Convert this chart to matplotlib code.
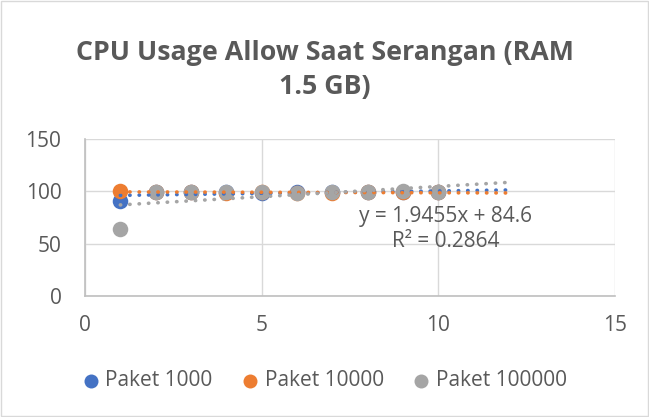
import numpy as np
import matplotlib.pyplot as plt

# data
x = [1, 2, 3, 4, 5, 6, 7, 8, 9, 10]
paket_1000 = [91, 99.5, 99, 99, 98, 99, 99, 99, 99.5, 99.5]
paket_10000 = [100, 99.5, 99.5, 98.5, 99, 98.5, 98.5, 99, 99, 99]
paket_100000 = [64, 99.5, 99.5, 99, 99.5, 98.5, 99.5, 99.5, 100, 99.5]
names = ["Paket 1000", "Paket 10000", "Paket 100000"]
colors = ["#4472C4", "#ED7D31", "#A5A5A5"]
eq_text = "y = 1.9455x + 84.6\nR² = 0.2864"

plt.rcParams['font.family'] = ['Open Sans', 'DejaVu Sans']
fig = plt.figure(figsize=(6.49, 4.17), dpi=100)
ax = fig.add_axes([85/649, 1 - 296/417, 530/649, 157/417])

series = [paket_1000, paket_10000, paket_100000]
xt = np.array([1, 12])
for ys, name, c in zip(series, names, colors):
    ax.scatter(x, ys, s=125, color=c, zorder=3, label=name, linewidths=0)
for ys, c in zip(series, colors):
    k, b = np.polyfit(x, ys, 1)
    ax.plot(xt, k * xt + b, color=c, linestyle=(0, (0.1, 2.5)), linewidth=2.6,
            dash_capstyle='round', zorder=4)

ax.text(10.2, 64, eq_text, ha='center', va='center', fontsize=15,
        color="#595959", linespacing=1.3)

ax.set_xlim(0, 15)
ax.set_ylim(0, 150)
ax.set_xticks([0, 5, 10, 15])
ax.set_yticks([0, 50, 100, 150])
ax.grid(True, color="#D9D9D9", linewidth=1)
ax.set_axisbelow(True)
for s in ["top", "right"]:
    ax.spines[s].set_visible(False)
for s in ["left", "bottom"]:
    ax.spines[s].set_color("#BFBFBF")
    ax.spines[s].set_linewidth(1.2)
ax.tick_params(length=0, labelsize=15, labelcolor="#595959")
ax.tick_params(axis='y', pad=17)
ax.tick_params(axis='x', pad=14)

fig.text(0.5, 0.832, "CPU Usage Allow Saat Serangan (RAM\n1.5 GB)", ha='center',
         va='center', fontsize=19.3, fontweight='bold', color="#595959", linespacing=1.4)

ax.legend(loc='center', bbox_to_anchor=(0.5, 0.087), bbox_transform=fig.transFigure,
          ncol=3, frameon=False, fontsize=15, labelcolor="#595959",
          handlelength=0.8, handletextpad=0.3, columnspacing=1.4, markerscale=0.9)

fig.patches.append(plt.Rectangle((0.002, 0.003), 0.996, 0.994, transform=fig.transFigure,
                                 fill=False, edgecolor="#D9D9D9", linewidth=1))
fig.savefig("out.png", dpi=100)
